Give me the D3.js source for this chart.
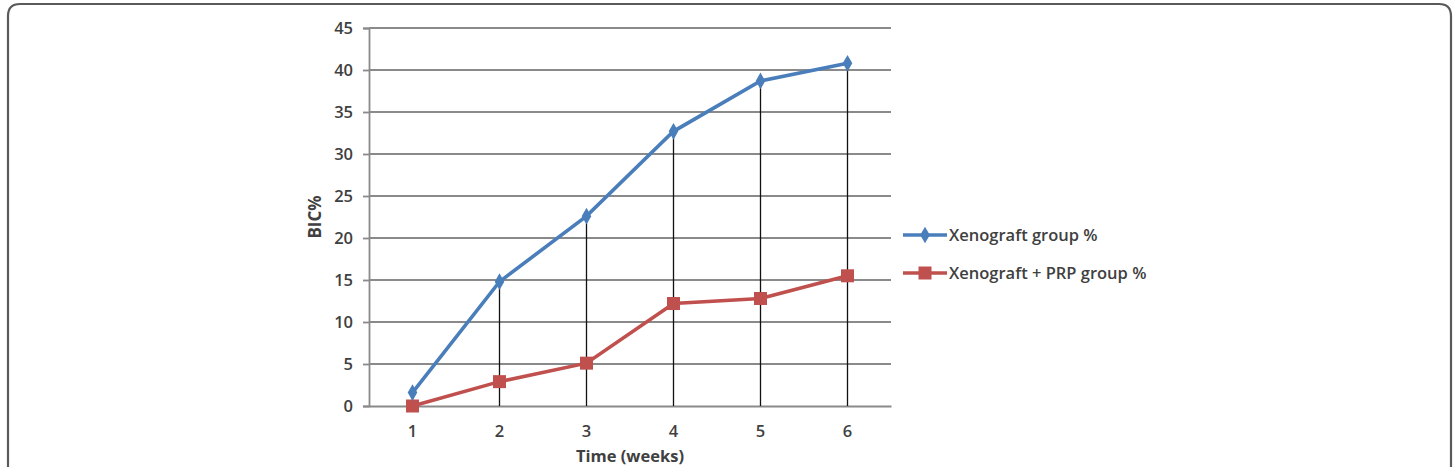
<!DOCTYPE html>
<html>
<head>
    <meta charset="utf-8">
    <title>BIC %</title>
    <style>
        body { margin: 0; background: #fff; }
        text { font-family: "Open Sans", sans-serif; fill: #404040; }
    </style>
</head>
<body>
    <script src="https://d3js.org/d3.v7.min.js"></script>
    <script>
    const weeks = ["1", "2", "3", "4", "5", "6"];
    const xenograft = [1.6, 14.8, 22.6, 32.7, 38.7, 40.8];
    const xenograftPrp = [0, 2.9, 5.1, 12.2, 12.8, 15.5];
    const yTicks = [0, 5, 10, 15, 20, 25, 30, 35, 40, 45];
    const seriesNames = ["Xenograft group %", "Xenograft + PRP group %"];

    const width = 1455, height = 467;
    const plotLeft = 369, plotRight = 891, plotTop = 28, plotBottom = 406;

    var svg = d3.select("body").append("svg")
        .attr("width", width)
        .attr("height", height);

    // rounded frame, open at the bottom
    svg.append("path")
        .attr("d", "M8,480 V16 Q8,4 20,4 H1439 Q1451,4 1451,16 V480")
        .attr("fill", "none")
        .attr("stroke", "#5a5a5a")
        .attr("stroke-width", 2.2);

    var x = d3.scaleBand().domain(weeks).range([plotLeft, plotRight]);
    var y = d3.scaleLinear().domain([0, 45]).range([plotBottom, plotTop]);

    // gridlines
    svg.append("g").selectAll("line")
        .data(yTicks.slice(1))
        .enter().append("line")
        .attr("x1", plotLeft).attr("x2", plotRight)
        .attr("y1", d => y(d)).attr("y2", d => y(d))
        .attr("stroke", "#8a8a8a")
        .attr("stroke-width", 1.8);

    // y axis
    var yAxis = svg.append("g")
        .attr("transform", "translate(" + plotLeft + ",0)")
        .call(d3.axisLeft(y).tickValues(yTicks).tickSize(6).tickPadding(10));
    yAxis.selectAll("line, path").attr("stroke", "#8a8a8a").attr("stroke-width", 1.8);
    yAxis.selectAll("text").style("font-size", "16.5px").style("font-weight", 600)
        .style("font-family", "Open Sans").attr("fill", "#404040");

    // x axis
    var xAxis = svg.append("g")
        .attr("transform", "translate(0," + plotBottom + ")")
        .call(d3.axisBottom(x).tickSize(0).tickPadding(19));
    xAxis.select(".domain").attr("stroke", "#8a8a8a").attr("stroke-width", 1.8);
    xAxis.selectAll("text").style("font-size", "16.5px").style("font-weight", 600)
        .style("font-family", "Open Sans").attr("fill", "#404040");

    var cx = d => x(d) + x.bandwidth() / 2;

    // drop lines
    svg.append("g").selectAll("line")
        .data(weeks)
        .enter().append("line")
        .attr("x1", cx)
        .attr("x2", cx)
        .attr("y1", (d, i) => y(Math.max(xenograft[i], xenograftPrp[i])))
        .attr("y2", plotBottom)
        .attr("stroke", "#111")
        .attr("stroke-width", 1.3);

    var line = d3.line().x(d => cx(d[0])).y(d => y(d[1]));

    // red series
    var red = "#c0504d", blue = "#4a7ebb";
    svg.append("path")
        .datum(weeks.map((w, i) => [w, xenograftPrp[i]]))
        .attr("d", line)
        .attr("fill", "none").attr("stroke", red).attr("stroke-width", 3.6);
    svg.append("g").selectAll("rect")
        .data(weeks)
        .enter().append("rect")
        .attr("x", d => cx(d) - 6.5)
        .attr("y", (d, i) => y(xenograftPrp[i]) - 6.5)
        .attr("width", 13).attr("height", 13)
        .attr("fill", red);

    // blue series
    svg.append("path")
        .datum(weeks.map((w, i) => [w, xenograft[i]]))
        .attr("d", line)
        .attr("fill", "none").attr("stroke", blue).attr("stroke-width", 3.6);
    svg.append("g").selectAll("path")
        .data(weeks)
        .enter().append("path")
        .attr("d", d3.symbol(d3.symbolDiamond, 80))
        .attr("transform", (d, i) => "translate(" + cx(d) + "," + y(xenograft[i]) + ")")
        .attr("fill", blue);

    // axis titles
    svg.append("text")
        .attr("transform", "translate(315," + (plotTop + plotBottom) / 2 + ") rotate(-90)")
        .attr("text-anchor", "middle")
        .attr("dy", "0.35em")
        .style("font-size", "17px").style("font-weight", 700)
        .text("BIC%");
    svg.append("text")
        .attr("x", (plotLeft + plotRight) / 2)
        .attr("y", 462)
        .attr("text-anchor", "middle")
        .style("font-size", "16.5px").style("font-weight", 700)
        .text("Time (weeks)");

    // legend
    var legend = svg.append("g").attr("transform", "translate(903,235)");
    [blue, red].forEach(function(c, i) {
        var g = legend.append("g").attr("transform", "translate(0," + i * 38 + ")");
        g.append("line").attr("x1", 0).attr("x2", 44)
            .attr("stroke", c).attr("stroke-width", 3.6);
        if (i === 0) {
            g.append("path").attr("d", d3.symbol(d3.symbolDiamond, 80))
                .attr("transform", "translate(22,0)").attr("fill", c);
        } else {
            g.append("rect").attr("x", 15.5).attr("y", -6.5)
                .attr("width", 13).attr("height", 13).attr("fill", c);
        }
        g.append("text").attr("x", 46).attr("dy", "0.35em")
            .style("font-size", "16.5px").style("font-weight", 600)
            .text(seriesNames[i]);
    });
    </script>
</body>
</html>
